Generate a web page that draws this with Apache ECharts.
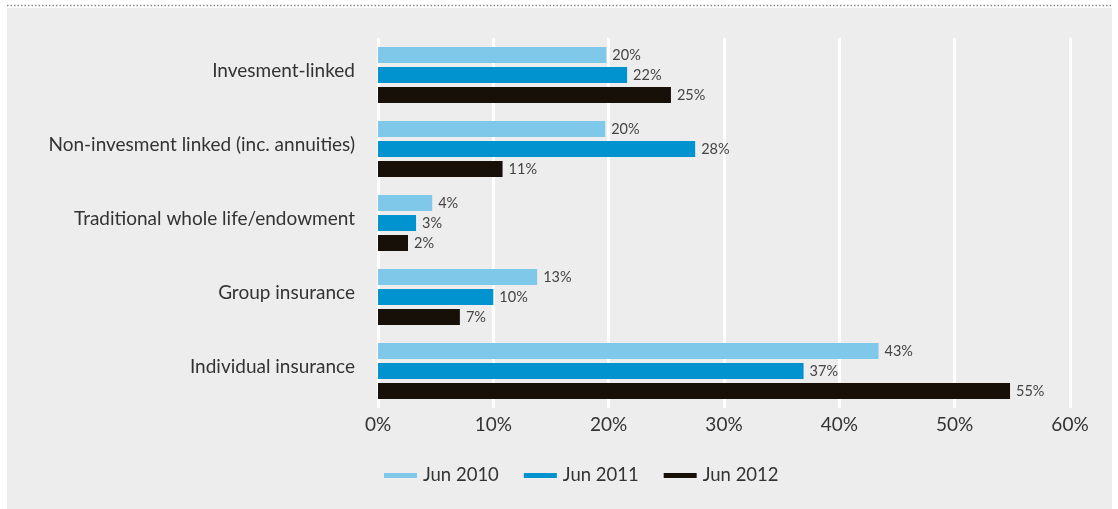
<!DOCTYPE html>
<html>
<head>
<meta charset="utf-8">
<script src="https://cdn.jsdelivr.net/npm/echarts@6/dist/echarts.min.js"></script>
<style>
html,body{margin:0;padding:0;background:#ffffff;}
#chart{width:1118px;height:509px;}
</style>
</head>
<body>
<div id="chart"></div>
<script>
const categories = ['Invesment-linked', 'Non-invesment linked (inc. annuities)', 'Traditional whole life/endowment', 'Group insurance', 'Individual insurance'];
const seriesNames = ['Jun 2010', 'Jun 2011', 'Jun 2012'];
const jun2010 = [19.8, 19.7, 4.7, 13.8, 43.4];
const jun2011 = [21.6, 27.5, 3.3, 10.0, 36.9];
const jun2012 = [25.4, 10.8, 2.6, 7.1, 54.8];
const labels2010 = ['20%', '20%', '4%', '13%', '43%'];
const labels2011 = ['22%', '28%', '3%', '10%', '37%'];
const labels2012 = ['25%', '11%', '2%', '7%', '55%'];
const xTicks = [0, 10, 20, 30, 40, 50, 60];

const colors = ['#80c8e9', '#0093d0', '#161008'];
const FONT = 'Lato';
const chart = echarts.init(document.getElementById('chart'), null, {renderer: 'canvas'});

function mk(name, data, lbls, color) {
  return {
    name: name,
    type: 'bar',
    data: data,
    barWidth: 16,
    barGap: '25%',
    itemStyle: {color: color},
    label: {
      show: true,
      position: 'right',
      distance: 6,
      fontFamily: FONT,
      fontSize: 14.5,
      color: '#444444',
      formatter: p => lbls[p.dataIndex]
    },
    emphasis: {disabled: true},
    animation: false
  };
}

chart.setOption({
  animation: false,
  backgroundColor: '#ffffff',
  color: colors,
  graphic: [
    {type: 'rect', z: -10, shape: {x: 7, y: 8, width: 1105, height: 501}, style: {fill: '#ededed'}},
    {type: 'line', z: -10, shape: {x1: 7, y1: 5.5, x2: 1112, y2: 5.5}, style: {stroke: '#8a8a8a', lineWidth: 1.5, lineDash: [1.5, 2]}}
  ],
  grid: {left: 378, right: 48, top: 38, height: 370, containLabel: false},
  legend: {
    left: 384,
    top: 466,
    padding: 0,
    itemWidth: 33,
    itemHeight: 5,
    itemGap: 25,
    icon: 'rect',
    textStyle: {fontFamily: FONT, fontSize: 18.5, color: '#333333', padding: [0, 0, 0, 1]},
    data: seriesNames
  },
  xAxis: {
    type: 'value',
    min: xTicks[0],
    max: xTicks[xTicks.length - 1],
    interval: 10,
    axisLine: {show: false},
    axisTick: {show: false},
    axisLabel: {formatter: '{value}%', fontFamily: FONT, fontSize: 19, color: '#333333', margin: 7},
    splitLine: {show: true, lineStyle: {color: '#ffffff', width: 3}}
  },
  yAxis: {
    type: 'category',
    inverse: true,
    data: categories,
    axisLine: {show: false},
    axisTick: {show: false},
    axisLabel: {
      margin: 23,
      formatter: v => '{a|' + v + '}',
      rich: {a: {fontFamily: FONT, fontSize: 19, color: '#333333', padding: [0, 0, 9, 0]}}
    }
  },
  series: [
    mk(seriesNames[0], jun2010, labels2010, colors[0]),
    mk(seriesNames[1], jun2011, labels2011, colors[1]),
    mk(seriesNames[2], jun2012, labels2012, colors[2])
  ]
});
</script>
</body>
</html>
